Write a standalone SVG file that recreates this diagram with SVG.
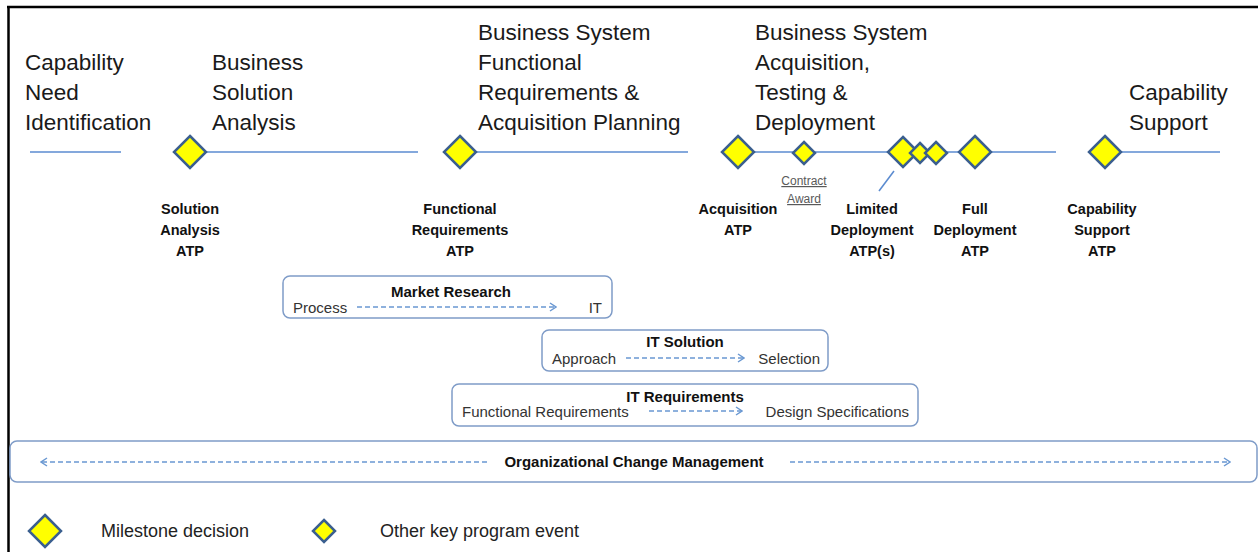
<svg xmlns="http://www.w3.org/2000/svg" xmlns:xlink="http://www.w3.org/1999/xlink" width="1258" height="552" viewBox="0 0 1258 552">
<style>
.phase{font-family:"Liberation Sans",Arial,sans-serif;font-size:22.5px;fill:#1a1a1a}
.ms{font-family:"Liberation Sans",Arial,sans-serif;font-size:14.5px;font-weight:bold;fill:#111;text-anchor:middle}
.ca{font-family:"Liberation Sans",Arial,sans-serif;font-size:12px;fill:#595959;text-anchor:middle;text-decoration:underline}
.bt{font-family:"Liberation Sans",Arial,sans-serif;font-size:15px;font-weight:bold;fill:#111;text-anchor:middle}
.st{font-family:"Liberation Sans",Arial,sans-serif;font-size:15px;fill:#333}
.lg{font-family:"Liberation Sans",Arial,sans-serif;font-size:18px;fill:#222}
.tl{stroke:#5b8bd0;stroke-width:1.5;fill:none}
.dm{fill:#ffff00;stroke:#3b5f8f;stroke-width:2.5;stroke-linejoin:miter}
.box{fill:none;stroke:#7f9cc8;stroke-width:1.5}
.da{stroke:#6a98d2;stroke-width:1.5;stroke-dasharray:5 3;fill:none}
</style>
<defs>
<marker id="ah" viewBox="0 0 8 10" refX="7" refY="5" markerWidth="8" markerHeight="10" markerUnits="userSpaceOnUse" orient="auto">
<path d="M1,1 L7,5 L1,9" fill="none" stroke="#6a98d2" stroke-width="1.5"/>
</marker>
<polygon id="big" points="0,-16 16,0 0,16 -16,0"/>
<polygon id="small" points="0,-11 11,0 0,11 -11,0"/>
</defs>
<rect width="1258" height="552" fill="#fff"/>
<g id="frame" stroke="#000" stroke-width="2.5" fill="none">
<line x1="7" y1="7" x2="1258" y2="7"/>
<line x1="8.5" y1="6" x2="8.5" y2="552"/>
</g>
<g id="phases">
<text class="phase" x="25" y="70">Capability</text>
<text class="phase" x="25" y="100">Need</text>
<text class="phase" x="25" y="130">Identification</text>
<text class="phase" x="212" y="70">Business</text>
<text class="phase" x="212" y="100">Solution</text>
<text class="phase" x="212" y="130">Analysis</text>
<text class="phase" x="478" y="40">Business System</text>
<text class="phase" x="478" y="70">Functional</text>
<text class="phase" x="478" y="100">Requirements &amp;</text>
<text class="phase" x="478" y="130">Acquisition Planning</text>
<text class="phase" x="755" y="40">Business System</text>
<text class="phase" x="755" y="70">Acquisition,</text>
<text class="phase" x="755" y="100">Testing &amp;</text>
<text class="phase" x="755" y="130">Deployment</text>
<text class="phase" x="1129" y="100">Capability</text>
<text class="phase" x="1129" y="130">Support</text>
</g>
<g id="connectors">
<line class="tl" x1="30" y1="152" x2="121" y2="152"/>
<line class="tl" x1="190" y1="152" x2="418" y2="152"/>
<line class="tl" x1="460" y1="152" x2="688" y2="152"/>
<line class="tl" x1="737" y1="152" x2="1056" y2="152"/>
<line class="tl" x1="1105" y1="152" x2="1220" y2="152"/>
<line class="tl" x1="894" y1="171" x2="879" y2="191"/>
<line class="da" x1="357" y1="307" x2="556" y2="307" marker-end="url(#ah)"/>
<line class="da" x1="626" y1="358" x2="744" y2="358" marker-end="url(#ah)"/>
<line class="da" x1="649" y1="411" x2="742" y2="411" marker-end="url(#ah)"/>
<line class="da" x1="487" y1="462" x2="41" y2="462" marker-end="url(#ah)"/>
<line class="da" x1="790" y1="462" x2="1230" y2="462" marker-end="url(#ah)"/>
</g>
<g id="m-solution">
<use href="#big" class="dm" x="190" y="152"/>
<text class="ms" x="190" y="214">Solution</text>
<text class="ms" x="190" y="235">Analysis</text>
<text class="ms" x="190" y="256">ATP</text>
</g>
<g id="m-functional">
<use href="#big" class="dm" x="460" y="152"/>
<text class="ms" x="460" y="214">Functional</text>
<text class="ms" x="460" y="235">Requirements</text>
<text class="ms" x="460" y="256">ATP</text>
</g>
<g id="m-acquisition">
<use href="#big" class="dm" x="738" y="152"/>
<text class="ms" x="738" y="214">Acquisition</text>
<text class="ms" x="738" y="235">ATP</text>
</g>
<g id="m-contract">
<use href="#small" class="dm" x="804" y="153"/>
<text class="ca" x="804" y="185">Contract</text>
<text class="ca" x="804" y="203">Award</text>
</g>
<g id="m-limited">
<polygon class="dm" points="903,137 918,152 903,167 888,152"/>
<polygon class="dm" points="920,143 930,153 920,163 910,153"/>
<polygon class="dm" points="936,142 947,153 936,164 925,153"/>
<text class="ms" x="872" y="214">Limited</text>
<text class="ms" x="872" y="235">Deployment</text>
<text class="ms" x="872" y="256">ATP(s)</text>
</g>
<g id="m-full">
<use href="#big" class="dm" x="975" y="152"/>
<text class="ms" x="975" y="214">Full</text>
<text class="ms" x="975" y="235">Deployment</text>
<text class="ms" x="975" y="256">ATP</text>
</g>
<g id="m-support">
<use href="#big" class="dm" x="1105" y="152"/>
<text class="ms" x="1102" y="214">Capability</text>
<text class="ms" x="1102" y="235">Support</text>
<text class="ms" x="1102" y="256">ATP</text>
</g>
<g id="b-market">
<rect class="box" x="283" y="276" width="329" height="42" rx="7"/>
<text class="bt" x="451" y="297">Market Research</text>
<text class="st" x="293" y="313">Process</text>
<text class="st" x="602" y="313" text-anchor="end">IT</text>
</g>
<g id="b-itsolution">
<rect class="box" x="542" y="330" width="286" height="41" rx="7"/>
<text class="bt" x="685" y="347">IT Solution</text>
<text class="st" x="552" y="364">Approach</text>
<text class="st" x="820" y="364" text-anchor="end">Selection</text>
</g>
<g id="b-itreq">
<rect class="box" x="452" y="384" width="466" height="42" rx="7"/>
<text class="bt" x="685" y="402">IT Requirements</text>
<text class="st" x="462" y="417">Functional Requirements</text>
<text class="st" x="909" y="417" text-anchor="end">Design Specifications</text>
</g>
<g id="b-ocm">
<rect class="box" x="10" y="441" width="1247" height="41" rx="7"/>
<text class="bt" x="634" y="467">Organizational Change Management</text>
</g>
<g id="legend">
<use href="#big" class="dm" x="45" y="531"/>
<text class="lg" x="101" y="537">Milestone decision</text>
<use href="#small" class="dm" x="324" y="531"/>
<text class="lg" x="380" y="537">Other key program event</text>
</g>
</svg>
